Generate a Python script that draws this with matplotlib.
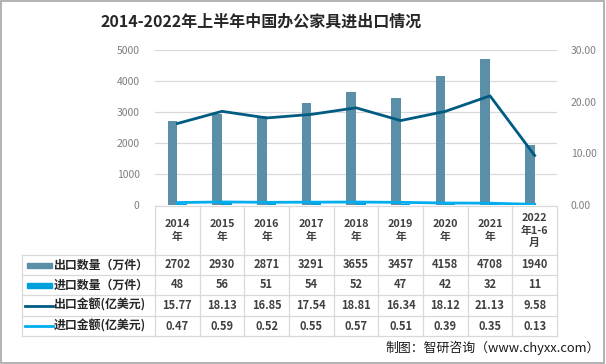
import numpy as np
import matplotlib.pyplot as plt
from matplotlib.lines import Line2D
from matplotlib.patches import Rectangle

plt.rcParams['font.family'] = ['Noto Sans CJK SC', 'DejaVu Sans']

years = ['2014\n年', '2015\n年', '2016\n年', '2017\n年', '2018\n年',
         '2019\n年', '2020\n年', '2021\n年', '2022\n年1-6\n月']
export_qty = [2702, 2930, 2871, 3291, 3655, 3457, 4158, 4708, 1940]
import_qty = [48, 56, 51, 54, 52, 47, 42, 32, 11]
export_amt = [15.77, 18.13, 16.85, 17.54, 18.81, 16.34, 18.12, 21.13, 9.58]
import_amt = [0.47, 0.59, 0.52, 0.55, 0.57, 0.51, 0.39, 0.35, 0.13]

row_names = ['出口数量（万件）', '进口数量（万件）', '出口金额(亿美元)', '进口金额(亿美元)']
row_vals = [[str(v) for v in export_qty], [str(v) for v in import_qty],
            ['%.2f' % v for v in export_amt], ['%.2f' % v for v in import_amt]]

c_exq = '#5B8FA8'
c_imq = '#00A0DC'
c_exa = '#005B82'
c_ima = '#00AEEF'
grid_c = '#D9D9D9'
tick_c = '#7F7F7F'

W, H = 606, 364
fig = plt.figure(figsize=(W / 100, H / 100), dpi=100)

# axes placed by pixel box
left, right, top, bottom = 155, 557, 50, 205
ax = fig.add_axes([left / W, 1 - bottom / H, (right - left) / W, (bottom - top) / H])
ax2 = ax.twinx()

x = np.arange(len(years))
bw = 0.22
ax.bar(x - bw / 2, export_qty, bw, color=c_exq, zorder=2)
ax.bar(x + bw / 2, import_qty, bw, color=c_imq, zorder=2)
ax.set_xlim(-0.5, len(years) - 0.5)
ax.set_ylim(0, 5000)
ax.set_yticks(range(0, 5001, 1000))
ax.grid(axis='y', color=grid_c, lw=0.9, zorder=0)
ax.set_axisbelow(True)

ax2.plot(x, export_amt, color=c_exa, lw=2.0, zorder=3)
ax2.plot(x, import_amt, color=c_ima, lw=2.0, zorder=3)
ax2.set_ylim(0, 30)
ax2.set_yticks(range(0, 31, 10))
ax2.set_yticklabels(['%.2f' % v for v in range(0, 31, 10)])

for a in (ax, ax2):
    for s in a.spines.values():
        s.set_visible(False)
    a.tick_params(length=0, labelsize=7.5, labelcolor=tick_c)
ax.tick_params(axis='y', pad=11)
ax2.tick_params(axis='y', pad=10)
ax.set_xticks([])

# data table below the axes (pixel layout)
def px(xp, yp):
    return xp / W, 1 - yp / H

row_y = [206, 255, 275, 295, 316, 336]
col_w = (right - left) / len(years)
line_kw = dict(color=grid_c, lw=0.9, transform=fig.transFigure)

# horizontal lines
for i, yp in enumerate(row_y):
    x0 = left if i == 0 else 22
    fig.add_artist(Line2D([x0 / W, right / W], [1 - yp / H] * 2, **line_kw))
# vertical lines
for j in range(len(years) + 1):
    xp = left + j * col_w
    fig.add_artist(Line2D([xp / W] * 2, [1 - row_y[0] / H, 1 - row_y[-1] / H], **line_kw))
fig.add_artist(Line2D([22 / W] * 2, [1 - row_y[1] / H, 1 - row_y[-1] / H], **line_kw))

for j, lab in enumerate(years):
    cx = left + (j + 0.5) * col_w
    fig.text(*px(cx, (row_y[0] + row_y[1]) / 2), lab, ha='center', va='center',
             fontsize=7.8, fontweight='bold', color='#404040', linespacing=1.25)

for i, (name, vals) in enumerate(zip(row_names, row_vals)):
    cy = (row_y[i + 1] + row_y[i + 2]) / 2
    for j, v in enumerate(vals):
        cx = left + (j + 0.5) * col_w
        fig.text(*px(cx, cy), v, ha='center', va='center',
                 fontsize=8, fontweight='bold', color='#404040')
    fig.text(*px(54, cy), name, ha='left', va='center',
             fontsize=8.6, fontweight='bold', color='#262626')
    if i < 2:
        col = c_exq if i == 0 else c_imq
        fig.add_artist(Rectangle(px(27, cy + 2.5), 25 / W, 5 / H, color=col,
                                 transform=fig.transFigure))
    else:
        col = c_exa if i == 2 else c_ima
        fig.add_artist(Line2D([25 / W, 53 / W], [1 - cy / H] * 2, color=col, lw=2.0,
                              transform=fig.transFigure))

fig.text(*px(261, 22), '2014-2022年上半年中国办公家具进出口情况', ha='center',
         va='center', fontsize=11.5, fontweight='bold', color='#262626')
fig.text(*px(600, 348), '制图：智研咨询（www.chyxx.com）', ha='right', va='center',
         fontsize=9.3, color='#1A1A1A')

# outer frame
fig.add_artist(Rectangle((0.5 / W, 1.5 / H), (W - 2.5) / W, (H - 2.5) / H, fill=False,
                         edgecolor='#A6A6A6', lw=1.2, transform=fig.transFigure))

fig.savefig('out.png', dpi=100)
